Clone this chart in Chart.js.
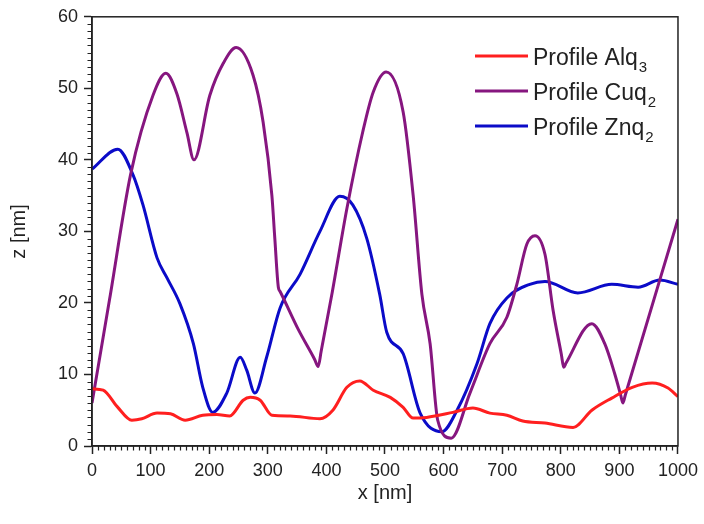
<!DOCTYPE html>
<html>
<head>
<meta charset="utf-8">
<script src="https://cdn.jsdelivr.net/npm/chart.js@4/dist/chart.umd.min.js"></script>
<style>
  html, body { margin: 0; padding: 0; background: #fff; }
  #wrap { width: 704px; height: 524px; }
</style>
</head>
<body>
<div id="wrap"><canvas id="profileChart" width="704" height="524"></canvas></div>
<script>
// x positions (nm) and heights (nm)
var alqX = [0, 19, 43, 68, 85, 111, 134, 159, 189, 213, 235, 258, 270, 287, 307, 338, 389, 411, 435, 457, 480, 509, 531, 548, 571, 616, 650, 679, 708, 735, 773, 821, 853, 887, 922, 956, 983, 1000];
var alqY = [8.0, 7.8, 5.5, 3.6, 3.8, 4.6, 4.5, 3.6, 4.3, 4.4, 4.2, 6.4, 6.8, 6.4, 4.3, 4.2, 3.8, 5.0, 8.2, 9.1, 7.8, 6.8, 5.4, 3.9, 4.0, 4.7, 5.3, 4.6, 4.3, 3.5, 3.2, 2.6, 5.0, 6.7, 8.2, 8.8, 8.1, 6.9];

var cuqX = [0, 30, 66, 104, 126, 145, 162, 174, 201, 224, 246, 275, 292, 307, 312, 318, 321, 352, 380, 386, 391, 410, 435, 462, 480, 502, 531, 548, 563, 577, 590, 613, 645, 679, 708, 725, 742, 756, 773, 787, 801, 805, 809, 853, 875, 892, 902, 906, 910, 1000];
var cuqY = [6.0, 20.5, 38.0, 49.0, 52.1, 49.2, 43.8, 40.0, 49.0, 53.5, 55.7, 51.8, 45.3, 35.0, 29.0, 22.2, 21.6, 16.3, 12.1, 11.1, 13.2, 21.5, 33.2, 43.9, 49.5, 52.3, 46.7, 35.1, 21.2, 14.3, 3.6, 1.1, 7.4, 14.3, 18.0, 22.6, 28.2, 29.4, 26.8, 18.9, 12.8, 11.0, 11.6, 17.1, 14.3, 10.1, 7.2, 6.0, 7.1, 31.7];

var znqX = [0, 44, 70, 87, 111, 128, 150, 173, 189, 206, 230, 253, 264, 278, 298, 321, 355, 389, 423, 445, 469, 491, 503, 531, 560, 597, 623, 657, 679, 708, 747, 773, 829, 887, 932, 969, 1000];
var znqY = [38.7, 41.5, 37.9, 33.7, 26.3, 23.5, 19.9, 14.3, 8.2, 4.7, 7.4, 12.4, 10.6, 7.4, 12.4, 19.3, 24.0, 30.0, 34.9, 33.7, 29.0, 21.2, 15.9, 12.9, 4.6, 2.0, 5.0, 11.5, 17.1, 20.7, 22.6, 23.0, 21.4, 22.6, 22.2, 23.2, 22.6];

var seriesNames = ["Profile Alq", "Profile Cuq", "Profile Znq"];
var seriesSubs = ["3", "2", "2"];
var seriesColors = ["#ff1f1f", "#86167f", "#0b0bc8"];

var xTicks = { min: 0, max: 1000, step: 100, minor: 10 };
var yTicks = { min: 0, max: 60, step: 10, minor: 1 };

function pts(xs, ys) {
  return xs.map(function (x, i) { return { x: x, y: ys[i] }; });
}

var FONT = "'Liberation Sans', Arial, sans-serif";

// frame, minor ticks and the legend inside the plot
var extras = {
  id: "extras",
  afterDraw: function (chart) {
    var ctx = chart.ctx;
    var a = chart.chartArea;
    var xs = chart.scales.x, ys = chart.scales.y;
    ctx.save();
    ctx.strokeStyle = "#222";
    ctx.lineWidth = 1.5;
    ctx.strokeRect(a.left, a.top, a.right - a.left, a.bottom - a.top);

    ctx.lineWidth = 1.2;
    ctx.beginPath();
    for (var v = yTicks.min; v <= yTicks.max; v += yTicks.minor) {
      if (v % yTicks.step === 0) continue;
      var py = Math.round(ys.getPixelForValue(v)) + 0.5;
      ctx.moveTo(a.left - 4.5, py);
      ctx.lineTo(a.left, py);
    }
    for (var u = xTicks.min; u <= xTicks.max; u += xTicks.minor) {
      if (u % xTicks.step === 0) continue;
      var px = Math.round(xs.getPixelForValue(u)) + 0.5;
      ctx.moveTo(px, a.bottom);
      ctx.lineTo(px, a.bottom + 4.5);
    }
    ctx.stroke();

    // legend
    var lx0 = 475, lx1 = 528, ty = 56, gap = 35;
    for (var i = 0; i < seriesNames.length; i++) {
      var y = ty + i * gap;
      ctx.strokeStyle = seriesColors[i];
      ctx.lineWidth = 3;
      ctx.beginPath();
      ctx.moveTo(lx0, y);
      ctx.lineTo(lx1, y);
      ctx.stroke();
      ctx.fillStyle = "#222";
      ctx.textBaseline = "alphabetic";
      ctx.textAlign = "left";
      ctx.font = "23px " + FONT;
      ctx.fillText(seriesNames[i], 533, y + 8.5);
      var w = ctx.measureText(seriesNames[i]).width;
      ctx.font = "15px " + FONT;
      ctx.fillText(seriesSubs[i], 533 + w + 1, y + 15.5);
    }
    ctx.restore();
  }
};

var ctx = document.getElementById("profileChart").getContext("2d");

new Chart(ctx, {
  type: "line",
  data: {
    datasets: [
      { label: "Profile Alq3", data: pts(alqX, alqY), borderColor: seriesColors[0] },
      { label: "Profile Cuq2", data: pts(cuqX, cuqY), borderColor: seriesColors[1] },
      { label: "Profile Znq2", data: pts(znqX, znqY), borderColor: seriesColors[2] }
    ]
  },
  options: {
    responsive: false,
    animation: false,
    events: [],
    elements: {
      line: { borderWidth: 3, cubicInterpolationMode: "monotone", fill: false },
      point: { radius: 0 }
    },
    layout: {
      padding: { left: 0, right: 26, top: 14, bottom: 0 }
    },
    scales: {
      x: {
        type: "linear",
        min: xTicks.min,
        max: xTicks.max,
        afterFit: function (scale) { scale.height = 78; },
        ticks: {
          stepSize: xTicks.step,
          color: "#222",
          padding: 6,
          maxRotation: 0,
          font: { family: FONT, size: 18 },
          callback: function (value) { return String(value); }
        },
        grid: {
          display: true,
          drawOnChartArea: false,
          drawTicks: true,
          tickLength: 8,
          tickWidth: 1.5,
          tickColor: "#222"
        },
        border: { display: true, color: "#222", width: 1.5 },
        title: {
          display: true,
          text: "x [nm]",
          color: "#222",
          font: { family: FONT, size: 20 },
          padding: { top: 0, bottom: 19 }
        }
      },
      y: {
        min: yTicks.min,
        max: yTicks.max,
        afterFit: function (scale) { scale.width = 92; },
        ticks: {
          stepSize: yTicks.step,
          color: "#222",
          padding: 6,
          font: { family: FONT, size: 18 }
        },
        grid: {
          display: true,
          drawOnChartArea: false,
          drawTicks: true,
          tickLength: 8,
          tickWidth: 1.5,
          tickColor: "#222"
        },
        border: { display: true, color: "#222", width: 1.5 },
        title: {
          display: true,
          text: "z [nm]",
          color: "#222",
          font: { family: FONT, size: 20 },
          padding: { top: 7, bottom: 0 }
        }
      }
    },
    plugins: {
      legend: { display: false },
      tooltip: { enabled: false }
    }
  },
  plugins: [extras]
});
</script>
</body>
</html>
